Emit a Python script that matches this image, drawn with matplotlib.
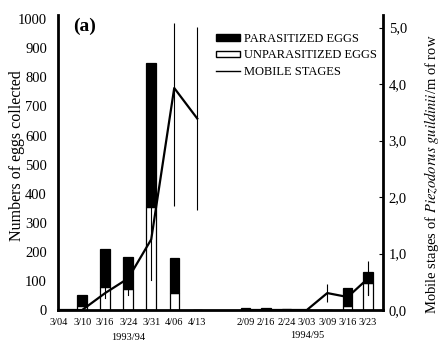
import matplotlib.pyplot as plt
import matplotlib.transforms as mtransforms
from matplotlib.patches import Patch
from matplotlib.lines import Line2D

plt.rcParams['font.family'] = ['Liberation Serif', 'DejaVu Serif']
plt.rcParams['mathtext.fontset'] = 'stix'

# data
dates_9394 = ['3/04', '3/10', '3/16', '3/24', '3/31', '4/06', '4/13']
dates_9495 = ['2/09', '2/16', '2/24', '3/03', '3/09', '3/16', '3/23']

total_9394 = [0, 52, 210, 182, 849, 179, 0]
unpar_9394 = [0, 15, 79, 72, 354, 58, 0]
unpar_err_9394 = [0, 0, 39, 22, 250, 0, 0]
mobile_9394 = [0, 0, 0.30, 0.56, 1.25, 3.93, 3.39]
mobile_lo_9394 = [0, 0, 0, 0, 0, 2.09, 1.62]
mobile_hi_9394 = [0, 0, 0, 0, 0, 1.16, 1.62]

total_9495 = [6, 7, 5, 0, 0, 76, 130]
unpar_9495 = [0, 0, 0, 0, 0, 15, 93]
unpar_err_9495 = [0, 0, 0, 0, 0, 0, 40]
mobile_9495 = [0, 0, 0, 0, 0.30, 0.23, 0.56]
mobile_lo_9495 = [0, 0, 0, 0, 0.16, 0, 0.30]
mobile_hi_9495 = [0, 0, 0, 0, 0.16, 0, 0.30]

# categorical positions, second season after a gap
x1 = list(range(len(dates_9394)))
x2 = [8.1 + 0.887 * i for i in range(len(dates_9495))]

fig = plt.figure(figsize=(4.41, 3.51), dpi=100)
ax = fig.add_axes([0.1315, 0.1168, 0.737, 0.840])
ax2 = ax.twinx()

w = 0.41
for xs, tot, unp, uerr in [(x1, total_9394, unpar_9394, unpar_err_9394),
                           (x2, total_9495, unpar_9495, unpar_err_9495)]:
    par = [t - u for t, u in zip(tot, unp)]
    ax.bar(xs, unp, width=w, color='white', edgecolor='black', linewidth=0.9, zorder=2)
    ax.bar(xs, par, width=w, bottom=unp, color='black', edgecolor='black', linewidth=0.9, zorder=2)
    for x, u, e in zip(xs, unp, uerr):
        if e > 0:
            ax.plot([x, x], [u, u - e], color='black', lw=0.8, zorder=3)

for xs, m, lo, hi in [(x1, mobile_9394, mobile_lo_9394, mobile_hi_9394),
                      (x2, mobile_9495, mobile_lo_9495, mobile_hi_9495)]:
    ax2.plot(xs, m, color='black', lw=1.6, zorder=4)
    ax2.errorbar(xs, m, yerr=[lo, hi], fmt='none', ecolor='black', elinewidth=0.8, capsize=0)

ax.set_xlim(-0.05, 14.07)
ax.set_ylim(0, 1014)
ax2.set_ylim(0, 5.22)

ax.set_xticks(x1 + x2)
ax.set_xticklabels(dates_9394 + dates_9495, fontsize=7.5)
ax.tick_params(axis='x', length=0, pad=6)
ax.set_yticks(range(0, 1001, 100))
ax.tick_params(axis='y', length=0, labelsize=10.5, pad=8)
ax2.set_yticks([0, 1, 2, 3, 4, 5])
ax2.set_yticklabels(['0,0', '1,0', '2,0', '3,0', '4,0', '5,0'])
ax2.tick_params(axis='y', direction='in', length=3, labelsize=10.5, pad=4)

for a in (ax, ax2):
    a.spines['top'].set_visible(False)
    for s in ('left', 'right', 'bottom'):
        a.spines[s].set_linewidth(2)
ax.spines['right'].set_visible(False)
ax2.spines['left'].set_visible(False)
ax2.spines['bottom'].set_visible(False)

ax.set_ylabel('Numbers of eggs collected', fontsize=11.5, va='center')
ax.yaxis.set_label_coords(-0.125, 0.525)
ax2.set_ylabel(r'Mobile stages of $\it{Piezodorus\ guildinii}$/m of row', fontsize=10.5,
               va='center')
ax2.yaxis.set_label_coords(1.148, 0.46)

trans = mtransforms.blended_transform_factory(ax.transData, ax.transAxes)
ax.text(x1[3], -0.092, '1993/94', transform=trans, ha='center', va='center', fontsize=7.5)
ax.text(x2[3], -0.085, '1994/95', transform=trans, ha='center', va='center', fontsize=7.5)

ax.text(0.048, 0.99, '(a)', transform=ax.transAxes, fontsize=14, fontweight='bold', va='top')

handles = [Patch(facecolor='black', edgecolor='black'),
           Patch(facecolor='white', edgecolor='black', linewidth=1),
           Line2D([], [], color='black', lw=1)]
fig.legend(handles, ['PARASITIZED EGGS', 'UNPARASITIZED EGGS', 'MOBILE STAGES'],
           loc='upper left', bbox_to_anchor=(216 / 441, 1 - 33 / 351), frameon=False,
           fontsize=9, handlelength=1.9, handleheight=0.4, handletextpad=0.3,
           labelspacing=0.35, borderpad=0, borderaxespad=0)

fig.savefig('out.png', dpi=100)
